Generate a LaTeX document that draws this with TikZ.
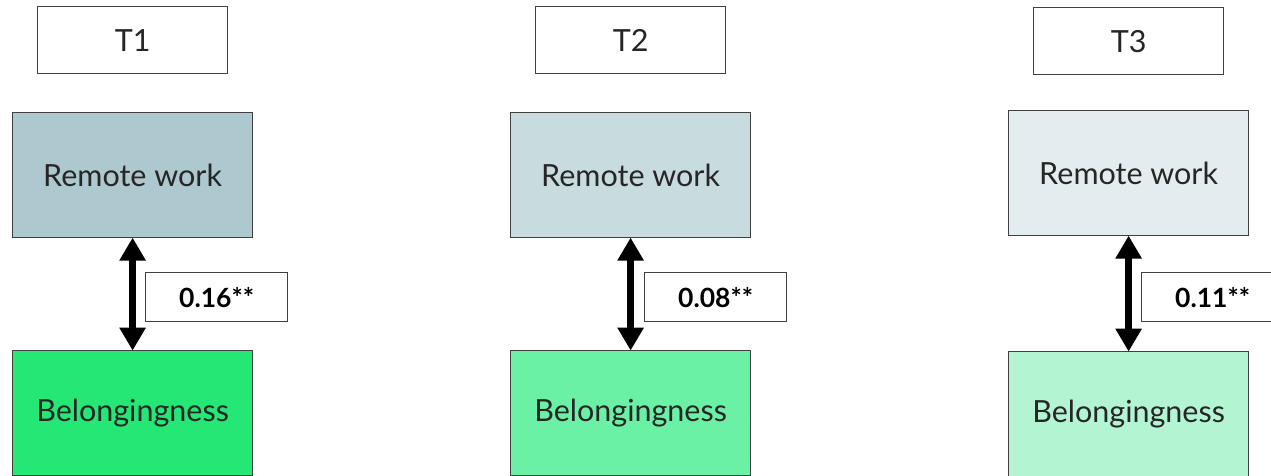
\documentclass[tikz,border=0pt]{standalone}
\usepackage{fontspec}
\setmainfont{Lato}
\usetikzlibrary{arrows.meta}
\definecolor{rwA}{HTML}{ADC8CE}
\definecolor{rwB}{HTML}{C8DBDF}
\definecolor{rwC}{HTML}{E3ECEE}
\definecolor{blA}{HTML}{24E776}
\definecolor{blB}{HTML}{6BF1A5}
\definecolor{blC}{HTML}{B3F5D2}
\definecolor{edge}{HTML}{404040}
\tikzset{
  box/.style={draw=edge, line width=1.2pt, anchor=north west, inner sep=0pt,
    font=\fontsize{30.5}{36}\selectfont, text=black!85},
  timebox/.style={box, minimum width=190pt, minimum height=67pt, fill=white},
  varbox/.style={box, minimum width=240pt, minimum height=125pt},
  coefbox/.style={box, minimum width=142pt, minimum height=49pt, fill=white,
    font=\fontsize{26.5}{31}\selectfont\bfseries, text=black},
  corr/.style={line width=7pt, {Triangle[width=25pt,length=23pt]}-{Triangle[width=25pt,length=23pt]}, shorten <=-0.6pt, shorten >=-0.6pt}
}
\begin{document}
\begin{tikzpicture}[x=1pt,y=-1pt]
  \useasboundingbox (0,0) rectangle (1271,475);
  % wave 1
  \node[timebox] (t1) at (37,6) {T1};
  \node[varbox, fill=rwA] (rw1) at (12,112) {Remote work};
  \node[varbox, fill=blA] (bl1) at (12,350) {Belongingness};
  \node[coefbox] (c1) at (145,272) {0.16**};
  \draw[corr] (rw1.south) -- (bl1.north);
  % wave 2
  \node[timebox] (t2) at (535,6) {T2};
  \node[varbox, fill=rwB] (rw2) at (510,112) {Remote work};
  \node[varbox, fill=blB] (bl2) at (510,350) {Belongingness};
  \node[coefbox] (c2) at (644,272) {0.08**};
  \draw[corr] (rw2.south) -- (bl2.north);
  % wave 3
  \node[timebox] (t3) at (1033,7) {T3};
  \node[varbox, fill=rwC] (rw3) at (1008,110) {Remote work};
  \node[varbox, fill=blC] (bl3) at (1008,351) {Belongingness};
  \node[coefbox] (c3) at (1141,272) {0.11**};
  \draw[corr] (rw3.south) -- (bl3.north);
\end{tikzpicture}
\end{document}
